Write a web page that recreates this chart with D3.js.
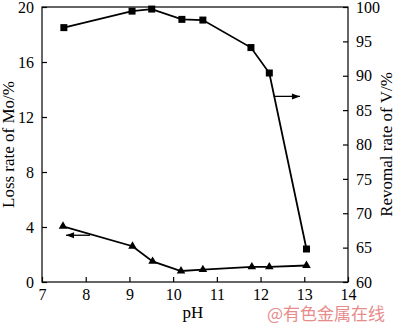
<!DOCTYPE html>
<html>
<head>
<meta charset="utf-8">
<script src="https://cdn.jsdelivr.net/npm/d3@7"></script>
<style>
body{margin:0;background:#fff;}
text{font-family:"Liberation Serif","DejaVu Serif",serif;fill:#000;}
</style>
</head>
<body>
<div id="chart"></div>
<script>
// pH values and two series
const phMo = [7.48, 9.07, 9.53, 10.18, 10.68, 11.8, 12.2, 13.05];
const moLoss = [4.05, 2.6, 1.5, 0.8, 0.9, 1.1, 1.1, 1.2];
const phV = [7.5, 9.06, 9.51, 10.2, 10.68, 11.78, 12.2, 13.05];
const vRemoval = [97.0, 99.4, 99.7, 98.2, 98.1, 94.1, 90.4, 64.8];
const xTicks = [7, 8, 9, 10, 11, 12, 13, 14];
const leftTicks = [0, 4, 8, 12, 16, 20];
const rightTicks = [60, 65, 70, 75, 80, 85, 90, 95, 100];

const margin = {top:7,right:52,bottom:43,left:42};
const width = 400 - margin.left - margin.right;
const height = 325 - margin.top - margin.bottom;

const svg = d3.select("#chart").append("svg")
    .attr("width",400).attr("height",325);
const g = svg.append("g")
    .attr("transform",`translate(${margin.left},${margin.top})`);

const x = d3.scaleLinear().domain([7,14]).range([0,width]);
const yL = d3.scaleLinear().domain([0,20]).range([height,0]);
const yR = d3.scaleLinear().domain([60,100]).range([height,0]);

// frame
g.append("rect").attr("width",width).attr("height",height)
    .attr("fill","none").attr("stroke","#000").attr("stroke-width",1.2);

// axes (ticks inward)
const xAxis = g.append("g").attr("transform",`translate(0,${height})`)
    .call(d3.axisBottom(x).tickValues(xTicks).tickFormat(d3.format("d")).tickSize(-5).tickPadding(7));
const lAxis = g.append("g")
    .call(d3.axisLeft(yL).tickValues(leftTicks).tickSize(-5).tickPadding(8));
const rAxis = g.append("g").attr("transform",`translate(${width},0)`)
    .call(d3.axisRight(yR).tickValues(rightTicks).tickSize(-5).tickPadding(8));
[xAxis,lAxis,rAxis].forEach(a => {
    a.select(".domain").remove();
    a.selectAll("line").attr("stroke","#000").attr("stroke-width",1.2);
    a.selectAll("text").style("font-size","16px").style("font-family","Liberation Serif");
});

// V removal line (squares)
const vData = phV.map((p,i) => ({p, v:vRemoval[i]}));
g.append("path").datum(vData)
    .attr("fill","none").attr("stroke","#000").attr("stroke-width",1.8)
    .attr("d",d3.line().x(d => x(d.p)).y(d => yR(d.v)));
g.selectAll(".sq").data(vData).enter().append("rect")
    .attr("x",d => x(d.p)-3.5).attr("y",d => yR(d.v)-3.5)
    .attr("width",7).attr("height",7).attr("fill","#000");

// Mo loss line (triangles)
const moData = phMo.map((p,i) => ({p, v:moLoss[i]}));
g.append("path").datum(moData)
    .attr("fill","none").attr("stroke","#000").attr("stroke-width",1.8)
    .attr("d",d3.line().x(d => x(d.p)).y(d => yL(d.v)));
g.selectAll(".tri").data(moData).enter().append("path")
    .attr("transform",d => `translate(${x(d.p)},${yL(d.v)})`)
    .attr("d",d3.symbol().type(d3.symbolTriangle).size(32))
    .attr("fill","#000");

// arrows
const arrow = (x1,x2,y) => {
    g.append("line").attr("x1",x1).attr("x2",x2).attr("y1",y).attr("y2",y)
        .attr("stroke","#000").attr("stroke-width",1.3);
    const dir = x2 > x1 ? 1 : -1;
    g.append("path")
        .attr("d",`M${x2},${y} L${x2-dir*8},${y-3} L${x2-dir*8},${y+3} Z`)
        .attr("fill","#000");
};
arrow(x(8.1), x(7.55), yL(3.4));
arrow(x(12.3), x(12.9), yR(87.0));

// axis titles
g.append("text")
    .attr("transform",`translate(${-28},${height/2}) rotate(-90)`)
    .attr("text-anchor","middle").style("font-size","17px")
    .text("Loss rate of Mo/%");
g.append("text")
    .attr("transform",`translate(${width+44},${height/2}) rotate(-90)`)
    .attr("text-anchor","middle").style("font-size","17px")
    .text("Revomal rate of V/%");
g.append("text")
    .attr("x",x(10.45)).attr("y",height+36)
    .attr("text-anchor","middle").style("font-size","17px")
    .text("pH");

// watermark
svg.append("text")
    .attr("x",326).attr("y",320).attr("text-anchor","middle")
    .style("font-family","Noto Sans CJK SC").style("font-size","17px")
    .style("fill","#e67f7f").style("opacity",0.9)
    .text("@有色金属在线");
</script>
</body>
</html>
